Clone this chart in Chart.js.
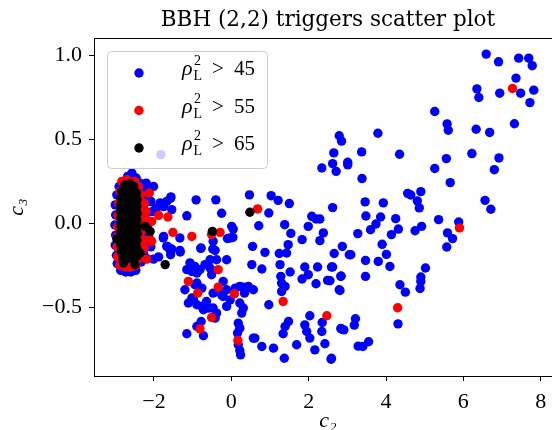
<!DOCTYPE html>
<html>
<head>
<meta charset="utf-8">
<script src="https://cdn.jsdelivr.net/npm/chart.js@4.4.1/dist/chart.umd.min.js"></script>
<style>
  html, body { margin: 0; padding: 0; overflow: hidden; background: #fff; }
  #wrap { width: 570px; height: 430px; }
</style>
</head>
<body>
<div id="wrap"><canvas id="chart-scatter" width="570" height="430"></canvas></div>
<script>
// series: rho_L^2 > 45 (blue), > 55 (red), > 65 (black) as [c2, c3]
const rho45 = [
  // dense cluster near c2 ~ -2.6
  [-2.57,0.30],[-2.68,0.28],[-2.46,0.27],[-2.78,0.25],[-2.36,0.24],[-2.90,0.22],[-2.30,0.20],[-2.96,0.17],
  [-2.26,0.15],[-3.00,0.11],[-2.27,0.10],[-2.99,0.05],[-2.22,0.05],[-3.01,-0.01],[-2.24,-0.02],[-2.99,-0.07],
  [-2.27,-0.06],[-3.00,-0.13],[-2.22,-0.13],[-2.97,-0.19],[-2.27,-0.18],[-2.95,-0.24],[-2.33,-0.23],[-2.86,-0.28],
  [-2.73,-0.29],[-2.60,-0.29],[-2.47,-0.28],[-2.18,-0.21],[-2.14,0.00],[-2.10,0.13],[-2.15,0.20],[-2.20,0.24],
  [-2.08,-0.14],[-2.13,-0.06],[-2.05,0.07],[-2.60,0.10],[-2.60,-0.10],[-2.50,0.00],[-2.08,0.131],[-2.01,0.22],
  // hidden behind the legend
  [-1.82,0.41],
  // left / middle region
  [-1.57,0.15],[-0.91,0.14],[-0.40,0.14],[-1.15,0.045],[-0.25,0.06],[0.47,0.17],[1.03,0.165],[1.21,0.137],
  [1.50,0.118],[2.62,0.094],[0.97,0.062],[0.71,-0.014],[1.38,-0.008],[2.08,0.042],[2.19,0.026],[2.29,0.026],
  [1.99,-0.018],[1.54,-0.06],[2.38,-0.057],[1.83,-0.097],[2.29,-0.103],[1.47,-0.127],[0.01,-0.018],[0.05,-0.034],
  [0.04,-0.084],[-0.03,-0.087],[-0.10,-0.09],[-0.47,-0.107],[-0.48,-0.153],[-0.79,-0.149],[-1.32,-0.171],[-1.76,-0.087],
  [-1.67,-0.137],[-1.58,-0.161],[-1.57,-0.187],[0.55,-0.137],[0.87,-0.173],[1.24,-0.18],[1.43,-0.177],[2.66,-0.18],
  [2.87,-0.137],[3.05,-0.187],[1.26,-0.246],[0.53,-0.246],[0.79,-0.272],[1.90,-0.26],[2.23,-0.26],[2.59,-0.26],
  [1.52,-0.29],[1.99,-0.306],[1.28,-0.316],[1.83,-0.332],[2.19,-0.36],[2.49,-0.34],[2.83,-0.316],[2.79,-0.396],
  [1.30,-0.356],[1.30,-0.406],[1.39,-0.376],[0.97,-0.485],[2.03,-0.551],[2.35,-0.591],[1.90,-0.605],[1.95,-0.645],
  [2.03,-0.684],[2.34,-0.645],[2.42,-0.718],[2.16,-0.754],[1.69,-0.724],[1.39,-0.615],[1.48,-0.585],[1.34,-0.658],
  [2.85,-0.63],[2.58,-0.81],[1.37,-0.804],[1.09,-0.744],[0.79,-0.734],[0.61,-0.684],[0.18,-0.595],[0.22,-0.625],
  [0.16,-0.654],[0.18,-0.724],[0.22,-0.758],[0.24,-0.784],[0.10,-0.386],[0.22,-0.376],[0.40,-0.386],[0.57,-0.396],
  [0.34,-0.416],[0.22,-0.475],[0.31,-0.505],[0.27,-0.535],[-0.12,-0.495],[-0.47,-0.505],[-0.38,-0.535],[-0.59,-0.505],
  [-0.68,-0.485],[-0.76,-0.495],[-0.72,-0.515],[-0.42,-0.565],[-0.78,-0.585],[-0.89,-0.615],[-1.15,-0.658],[-0.72,-0.67],
  [-0.21,-0.346],[-0.12,-0.396],[-0.25,-0.426],[-0.47,-0.416],[-0.21,-0.436],[-0.03,-0.456],[-1.20,-0.396],[-0.94,-0.366],
  [-0.76,-0.386],[-1.11,-0.475],[-0.98,-0.455],[-0.64,-0.466],[-1.02,-0.445],[-0.89,-0.485],[-0.89,-0.356],[-1.07,-0.236],
  [-0.94,-0.257],[-0.81,-0.276],[-0.68,-0.246],[-0.55,-0.266],[-0.51,-0.306],[-0.38,-0.217],[-0.12,-0.217],[-0.55,-0.217],
  [-0.89,-0.296],[-1.02,-0.287],[-1.15,-0.276],[-1.33,-0.087],[-1.75,0.10],[-1.97,0.082],[-1.75,-0.078],[-1.65,-0.137],
  [-1.54,-0.153],[-1.33,-0.161],[-2.01,-0.213],[-1.88,-0.20],[-1.84,0.122],[-1.67,0.131],[-1.54,0.082],[-1.93,0.092],
  [-1.56,0.158],[-0.78,-0.147],[-0.42,-0.161],[0.57,-0.684],[0.31,-0.38],[0.44,-0.376],
  // right region
  [6.59,1.009],[6.91,0.963],[7.43,0.985],[7.69,0.985],[7.78,0.94],[7.36,0.866],[6.35,0.802],[6.40,0.75],
  [6.94,0.776],[7.48,0.776],[7.82,0.794],[7.72,0.72],[7.32,0.594],[5.26,0.667],[5.58,0.593],[5.61,0.555],
  [6.33,0.561],[6.68,0.542],[3.79,0.537],[2.79,0.522],[2.85,0.49],[3.37,0.426],[2.65,0.42],[2.62,0.356],
  [2.71,0.31],[2.34,0.33],[3.01,0.364],[3.01,0.349],[4.35,0.412],[5.56,0.386],[5.26,0.327],[6.22,0.416],
  [6.92,0.39],[6.80,0.32],[3.38,0.267],[5.66,0.243],[4.56,0.179],[4.64,0.169],[4.90,0.189],[4.81,0.134],
  [4.86,0.092],[6.56,0.137],[6.71,0.084],[3.46,0.128],[3.93,0.122],[3.48,0.044],[3.86,0.038],[4.25,0.028],
  [3.74,-0.004],[3.60,-0.038],[3.27,-0.061],[4.14,-0.067],[4.32,-0.034],[4.75,-0.044],[4.92,-0.018],[5.36,0.022],
  [5.88,0.008],[5.59,-0.057],[5.72,-0.091],[5.57,-0.141],[3.09,-0.187],[3.47,-0.221],[3.80,-0.227],[4.01,-0.185],
  [3.90,-0.125],[4.10,-0.257],[2.62,-0.26],[2.84,-0.314],[3.47,-0.316],[2.81,-0.40],[2.55,-0.342],[5.02,-0.266],
  [4.90,-0.32],[4.90,-0.346],[4.88,-0.388],[4.36,-0.366],[4.50,-0.41],[4.31,-0.599],[3.21,-0.569],[3.18,-0.607],
  [2.83,-0.627],[2.91,-0.635],[3.28,-0.732],[3.40,-0.734],[3.55,-0.706],[2.59,-0.804]
];
const rho55 = [
  [-2.83,0.25],[-2.70,0.26],[-2.50,0.25],[-2.40,0.22],[-2.88,0.19],[-2.34,0.17],[-2.41,0.14],[-2.91,0.12],
  [-2.33,0.09],[-2.93,0.05],[-2.32,0.03],[-2.94,-0.02],[-2.30,-0.04],[-2.95,-0.08],[-2.33,-0.10],[-2.95,-0.14],
  [-2.36,-0.15],[-2.94,-0.20],[-2.40,-0.21],[-2.88,-0.25],[-2.74,-0.26],[-2.60,-0.26],[-2.46,-0.25],[-2.25,0.12],
  [-2.28,-0.02],[-2.25,-0.15],[-2.19,-0.213],[-2.12,0.181],[-2.23,0.022],[-2.10,-0.097],[-2.27,-0.097],[-2.06,-0.107],
  [-2.20,0.07],[-2.06,0.012],[-1.88,0.048],[-1.64,0.038],[-1.51,-0.054],[-1.02,-0.078],[-0.51,-0.067],[-0.29,-0.054],
  [0.68,0.086],[-0.34,-0.276],[-1.11,-0.346],[-0.87,-0.416],[-0.34,-0.38],[0.08,-0.42],[-0.51,-0.561],[-0.81,-0.629],
  [0.17,-0.698],[1.34,-0.466],[2.47,-0.551],[4.30,-0.503],[5.90,-0.027],[7.27,0.804]
];
const rho65 = [
  [-2.75,0.23],[-2.62,0.235],[-2.52,0.22],
  [-2.84,0.19],[-2.70,0.19],[-2.56,0.195],[-2.45,0.18],
  [-2.85,0.15],[-2.71,0.15],[-2.57,0.155],[-2.43,0.14],
  [-2.86,0.11],[-2.72,0.11],[-2.58,0.115],[-2.44,0.10],
  [-2.87,0.07],[-2.72,0.07],[-2.58,0.075],[-2.43,0.06],
  [-2.86,0.03],[-2.71,0.03],[-2.57,0.035],[-2.44,0.02],
  [-2.87,-0.01],[-2.72,-0.01],[-2.58,-0.005],[-2.44,-0.02],
  [-2.86,-0.05],[-2.71,-0.05],[-2.57,-0.045],[-2.43,-0.06],
  [-2.87,-0.09],[-2.72,-0.09],[-2.58,-0.085],[-2.44,-0.10],
  [-2.86,-0.13],[-2.71,-0.13],[-2.57,-0.125],[-2.45,-0.14],
  [-2.84,-0.17],[-2.70,-0.17],[-2.56,-0.165],[-2.46,-0.17],
  [-2.80,-0.21],[-2.67,-0.21],[-2.55,-0.205],
  [-2.96,-0.093],[-2.79,-0.236],[-2.49,-0.246],[-2.53,-0.20],[-2.44,-0.197],[-2.36,-0.177],
  [-2.23,-0.018],[-2.10,-0.048],[-1.71,-0.246],[-0.49,-0.048],[0.48,0.066]
];
const thresholds = [45, 55, 65];
const seriesColors = ['#0000ff', '#ff0000', '#000000'];
const xTicks = [-2, 0, 2, 4, 6, 8];
const yTicks = [-0.5, 0.0, 0.5, 1.0];
const titleText = 'BBH (2,2) triggers scatter plot';

const FONT = "'Liberation Serif', 'DejaVu Serif', serif";
const minus = (s) => s.replace('-', '\u2212');
const toPts = (arr) => arr.map(([x, y]) => ({ x, y }));

// title centred over the axes, like matplotlib does
const titlePlugin = {
  id: 'axesTitle',
  afterDraw(chart) {
    const { ctx, chartArea } = chart;
    ctx.save();
    ctx.fillStyle = '#000';
    ctx.font = "21.5px 'DejaVu Serif', serif";
    ctx.textAlign = 'center';
    ctx.textBaseline = 'alphabetic';
    ctx.fillText(titleText, (chartArea.left + chartArea.right) / 2, chartArea.top - 12);
    ctx.restore();
  }
};

// matplotlib-like legend box drawn over the points (semi transparent)
const legendPlugin = {
  id: 'mplLegend',
  afterDatasetsDraw(chart) {
    const { ctx, chartArea } = chart;
    const bx = chartArea.left + 13, by = chartArea.top + 13, bw = 160, bh = 117;
    ctx.save();
    ctx.beginPath();
    ctx.roundRect(bx + 0.5, by + 0.5, bw, bh, 4);
    ctx.fillStyle = 'rgba(255,255,255,0.8)';
    ctx.fill();
    ctx.strokeStyle = '#cccccc';
    ctx.lineWidth = 1;
    ctx.stroke();
    chart.data.datasets.forEach((ds, i) => {
      const cy = by + 22 + i * 37.5;
      ctx.beginPath();
      ctx.arc(bx + 32, cy, 4.7, 0, Math.PI * 2);
      ctx.fillStyle = ds.backgroundColor;
      ctx.fill();
      ctx.fillStyle = '#000';
      ctx.textBaseline = 'alphabetic';
      ctx.textAlign = 'left';
      const base = cy + 2;
      const tx = bx + 75;
      ctx.font = 'italic 22px ' + FONT;
      ctx.fillText('\u03c1', tx, base);
      ctx.font = '14px ' + FONT;
      ctx.fillText('2', tx + 12, base - 10);
      ctx.fillText('L', tx + 11.5, base + 5);
      ctx.font = '21px ' + FONT;
      ctx.fillText('>', tx + 30, base);
      ctx.fillText(String(thresholds[i]), tx + 52, base);
    });
    ctx.restore();
  }
};

// top and right spines (right spine falls just outside the window)
const framePlugin = {
  id: 'frame',
  afterDraw(chart) {
    const { ctx, chartArea } = chart;
    ctx.save();
    ctx.strokeStyle = '#000';
    ctx.lineWidth = 1;
    ctx.beginPath();
    ctx.moveTo(chartArea.left, Math.round(chartArea.top) + 0.5);
    ctx.lineTo(chartArea.right, Math.round(chartArea.top) + 0.5);
    ctx.lineTo(chartArea.right - 0.5, chartArea.bottom);
    ctx.stroke();
    ctx.restore();
  }
};

const canvas = document.getElementById('chart-scatter');
const chart = new Chart(canvas.getContext('2d'), {
  type: 'scatter',
  data: {
    datasets: thresholds.map((t, i) => ({
      label: 'rho_L^2 > ' + t,
      data: toPts([rho45, rho55, rho65][i]),
      backgroundColor: seriesColors[i],
      order: 3 - i
    }))
  },
  options: {
    responsive: false,
    animation: false,
    devicePixelRatio: 1,
    layout: { padding: { left: 0, right: 8, top: 38, bottom: 0 } },
    elements: { point: { radius: 4.7, hoverRadius: 4.7, borderWidth: 0 } },
    plugins: {
      legend: { display: false },
      tooltip: { enabled: false },
      title: { display: false }
    },
    scales: {
      x: {
        type: 'linear',
        min: -3.55,
        max: 8.55,
        afterBuildTicks: (s) => { s.ticks = xTicks.map((v) => ({ value: v })); },
        afterFit: (s) => { s.height = 54; },
        ticks: {
          color: '#000',
          padding: 8,
          font: { family: FONT, size: 22 },
          callback: (v) => minus(String(v))
        },
        grid: { drawOnChartArea: false, drawTicks: true, tickLength: 5, tickColor: '#000' },
        border: { display: true, color: '#000', width: 1 },
        title: {
          display: true,
          text: 'c\u2082',
          color: '#000',
          font: { family: FONT, size: 22, style: 'italic' },
          padding: { top: 0, bottom: -4 }
        }
      },
      y: {
        type: 'linear',
        min: -0.91,
        max: 1.105,
        afterBuildTicks: (s) => { s.ticks = yTicks.map((v) => ({ value: v })); },
        afterFit: (s) => { s.width = 94; },
        ticks: {
          color: '#000',
          padding: 7,
          font: { family: FONT, size: 22 },
          callback: (v) => minus(Number(v).toFixed(1))
        },
        grid: { drawOnChartArea: false, drawTicks: true, tickLength: 5, tickColor: '#000' },
        border: { display: true, color: '#000', width: 1 },
        title: {
          display: true,
          text: 'c\u2083',
          color: '#000',
          font: { family: FONT, size: 22, style: 'italic' },
          padding: { top: 4, bottom: 0 }
        }
      }
    }
  },
  plugins: [legendPlugin, framePlugin, titlePlugin]
});
</script>
</body>
</html>
